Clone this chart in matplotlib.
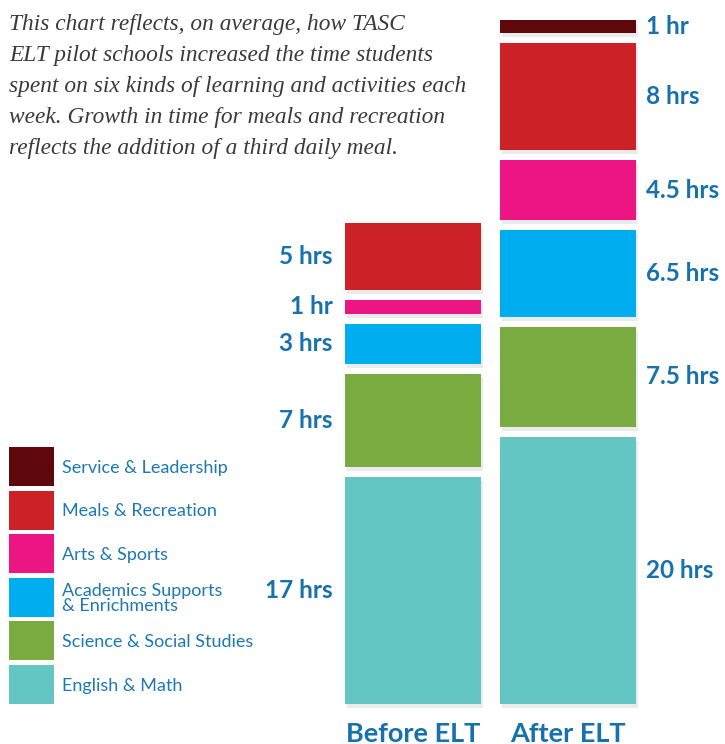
import matplotlib.pyplot as plt
import matplotlib.patheffects as pe
from matplotlib.patches import Rectangle

# data (hours per week), stacked bottom to top
categories = ['English & Math', 'Science & Social Studies',
              'Academics Supports\n& Enrichments', 'Arts & Sports',
              'Meals & Recreation', 'Service & Leadership']
before_hrs = [17, 7, 3, 1, 5, 0]
after_hrs = [20, 7.5, 6.5, 4.5, 8, 1]
groups = ['Before ELT', 'After ELT']
colors = ['#63c6c3', '#7aab41', '#00aeef', '#ed1483', '#cc2127', '#5e080b']

note = ("This chart reflects, on average, how TASC\n"
        "ELT pilot schools increased the time students\n"
        "spent on six kinds of learning and activities each\n"
        "week. Growth in time for meals and recreation\n"
        "reflects the addition of a third daily meal.")

W, H = 725, 744
px_per_hr = 13.35
gap = 0.75  # white space between segments, in hours
blue = '#1671ad'

fig = plt.figure(figsize=(W / 100, H / 100), dpi=100)
ax = fig.add_axes([0, 0, 1, 1])
ax.set_ylim(-40 / px_per_hr, 704 / px_per_hr)
ax.set_xlim(-413 / 155, (W - 413) / 155)
ax.axis('off')

shadow = [pe.SimplePatchShadow(offset=(1.5, -3), shadow_rgbFace='#000000', alpha=0.08),
          pe.Normal()]


def hrs_label(v):
    return f'{v:g} hr' if v == 1 else f'{v:g} hrs'


for i, vals in enumerate([before_hrs, after_hrs]):
    bottom = 0
    for v, c in zip(vals, colors):
        if v == 0:
            continue
        bar = ax.bar(i, v, bottom=bottom, width=0.877, color=c, linewidth=0)
        for p in bar:
            p.set_path_effects(shadow)
        mid = bottom + v / 2
        if i == 0:
            ax.text(-0.52, mid, hrs_label(v), ha='right', va='center',
                    fontsize=17.5, fontweight='bold', color=blue, family='Lato')
        else:
            ax.text(0.505 + 1, mid, hrs_label(v), ha='left', va='center',
                    fontsize=17.5, fontweight='bold', color=blue, family='Lato')
        bottom += v + gap
    ax.text(i, -29.5 / px_per_hr, groups[i], ha='center', va='center',
            fontsize=19.5, fontweight='bold', color=blue, family='Lato')

# note text
fig.text(9 / W, 1 - 14 / H, note, ha='left', va='top', fontsize=16.8,
         style='italic', family='Liberation Serif', color='#3a3a3a',
         linespacing=1.62)

# legend, top to bottom
for k, (lab, c) in enumerate(zip(categories[::-1], colors[::-1])):
    top = 447 + k * 43.5
    fig.add_artist(Rectangle((9 / W, 1 - (top + 39) / H), 45 / W, 39 / H,
                             transform=fig.transFigure, color=c, linewidth=0))
    fig.text(62 / W, 1 - (top + 21) / H, lab, ha='left', va='center',
             fontsize=13, color='#1d78b4', family='Lato', linespacing=0.95)

fig.savefig('out.png', dpi=100)
